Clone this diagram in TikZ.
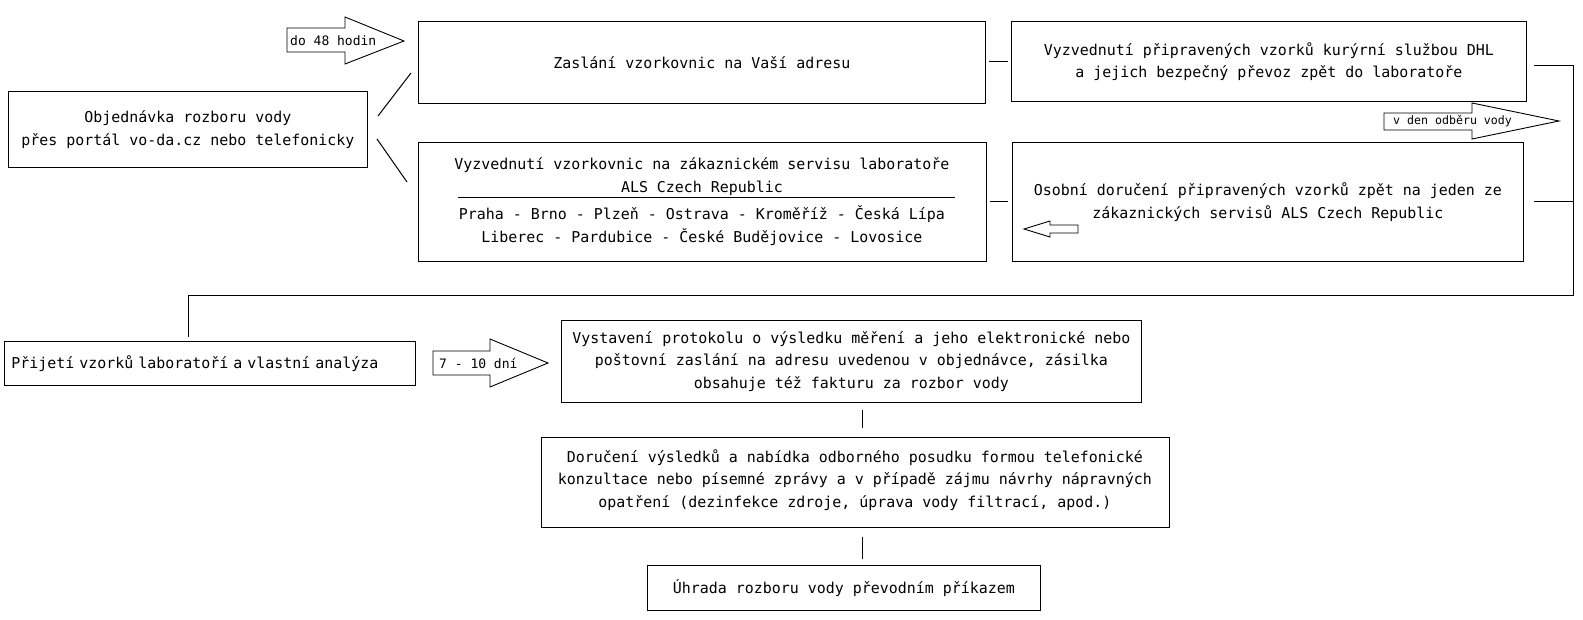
\documentclass[tikz,border=0pt]{standalone}
\usepackage{fontspec}
\setmainfont{DejaVu Sans Mono}
\begin{document}
\begin{tikzpicture}[x=1pt,y=-1pt,
  box/.style={draw, line width=1pt, inner sep=0pt, anchor=north west, align=center,
    font=\fontsize{14.95}{22.5}\selectfont},
  txt/.style={inner sep=0pt, font=\fontsize{14.95}{22.5}\selectfont},
  lblA/.style={inner sep=0pt, anchor=west, font=\fontsize{13}{15}\selectfont},
  lblB/.style={inner sep=0pt, anchor=west, font=\fontsize{11.6}{14}\selectfont},
  conn/.style={draw, line width=1pt},
  barrow/.style={draw, line width=0.9pt, line join=miter}]
\useasboundingbox (0,0) rectangle (1583,620);

% boxes
\node[box, minimum width=359pt, minimum height=76pt] (A) at (8,91)
  {Objednávka rozboru vody\\přes portál vo-da.cz nebo telefonicky};
\node[box, minimum width=567pt, minimum height=82pt] (B) at (418,21)
  {Zaslání vzorkovnic na Vaší adresu};
\node[box, minimum width=515pt, minimum height=80pt] (C) at (1011,21)
  {Vyzvednutí připravených vzorků kurýrní službou DHL\\a jejich bezpečný převoz zpět do laboratoře};
\node[box, minimum width=568pt, minimum height=119pt] (D) at (418,142) {};
\node[box, minimum width=511pt, minimum height=119pt] (E) at (1012,142)
  {Osobní doručení připravených vzorků zpět na jeden ze\\zákaznických servisů ALS Czech Republic};
\node[box, minimum width=411pt, minimum height=44pt, align=left, text width=397pt] (F) at (4,341)
  {Přijetí vzorků laboratoří a vlastní analýza};
\node[box, minimum width=580pt, minimum height=82pt] (G) at (561,320)
  {Vystavení protokolu o výsledku měření a jeho elektronické nebo\\poštovní zaslání na adresu uvedenou v objednávce, zásilka\\obsahuje též fakturu za rozbor vody};
\node[box, minimum width=628pt, minimum height=90pt] (H) at (541,437) {};
\node[box, minimum width=393pt, minimum height=45pt] (I) at (647,565)
  {Úhrada rozboru vody převodním příkazem};

% contents of H
\node[txt, align=center] (h0) at (855,480)
  {Doručení výsledků a nabídka odborného posudku formou telefonické\\konzultace nebo písemné zprávy a v případě zájmu návrhy nápravných\\opatření (dezinfekce zdroje, úprava vody filtrací, apod.)};

% contents of D
\node[txt] (d1) at (702,165) {Vyzvednutí vzorkovnic na zákaznickém servisu laboratoře};
\node[txt] (d2) at (702,188) {ALS Czech Republic};
\node[txt] (d3) at (702,214) {Praha - Brno - Plzeň - Ostrava - Kroměříž - Česká Lípa};
\node[txt] (d4) at (702,237) {Liberec - Pardubice - České Budějovice - Lovosice};
\coordinate (s1) at (458,198);
\coordinate (s2) at (955,198);
\draw[conn] (s1) -- (s2);

% block arrows
\draw[barrow] (287,28) -- (345,28) -- (345,17) -- (404,41) -- (345,64) -- (345,52) -- (287,52) -- cycle;
\node[lblA] (l48) at (290,40.5) {do 48 hodin};
\draw[barrow] (1384,113) -- (1472,113) -- (1472,103) -- (1559,121) -- (1472,139) -- (1472,130) -- (1384,130) -- cycle;
\node[lblB] (lden) at (1393,121.5) {v den odběru vody};
\draw[barrow] (433,351) -- (490,351) -- (490,339) -- (548,363) -- (490,387) -- (490,375) -- (433,375) -- cycle;
\node[lblA] (l710) at (439,363) {7 - 10 dní};
\draw[barrow] (1024,229) -- (1050,221) -- (1050,225) -- (1078,225) -- (1078,233) -- (1050,233) -- (1050,237) -- cycle;

% connectors
\coordinate (a1) at (378,116);
\coordinate (b1) at (411,73);
\coordinate (a2) at (377,139);
\coordinate (dd) at (407,182);
\draw[conn] (a1) -- (b1);
\draw[conn] (a2) -- (dd);
\coordinate (bc1) at (989,62);
\coordinate (bc2) at (1008,62);
\draw[conn] (bc1) -- (bc2);
\coordinate (de1) at (990,202);
\coordinate (de2) at (1008,202);
\draw[conn] (de1) -- (de2);
\coordinate (c1) at (1534,66);
\coordinate (c2) at (1573,66);
\coordinate (c3) at (1573,296);
\coordinate (c4) at (188,296);
\coordinate (f1) at (188,337);
\draw[conn] (c1) -- (c2) -- (c3) -- (c4) -- (f1);
\coordinate (e1) at (1534,202);
\draw[conn] (e1) -- (c2 |- e1);
\coordinate (g1) at (862,410);
\coordinate (h1) at (862,428);
\draw[conn] (g1) -- (h1);
\coordinate (h2) at (862,537);
\coordinate (i1) at (862,559);
\draw[conn] (h2) -- (i1);
\end{tikzpicture}
\end{document}
